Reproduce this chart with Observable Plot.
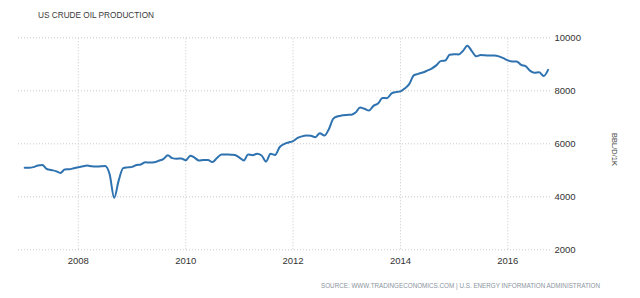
<!DOCTYPE html>
<html>
<head>
<meta charset="utf-8">
<script src="https://cdn.jsdelivr.net/npm/d3@7"></script>
<script src="https://cdn.jsdelivr.net/npm/@observablehq/plot@0.6"></script>
<style>
  html, body { margin: 0; padding: 0; background: #fff; }
  #chart { position: relative; width: 640px; height: 298px; overflow: hidden; }
  svg { font-family: "Liberation Sans", Arial, sans-serif; }
</style>
</head>
<body>
<div id="chart"></div>
<script>
const title = "US CRUDE OIL PRODUCTION";
const unitLabel = "BBL/D/1K";
const sourceText = "SOURCE: WWW.TRADINGECONOMICS.COM | U.S. ENERGY INFORMATION ADMINISTRATION";

const firstMonth = "2007-01-01";
// Monthly US crude oil production, thousand barrels per day
const production = [
  // 2007
  5094, 5094, 5120, 5180, 5200, 5050, 5010, 4970, 4900, 5030, 5040, 5080,
  // 2008
  5117, 5150, 5180, 5150, 5140, 5150, 5160, 4850, 3960, 4600, 5080, 5110,
  // 2009
  5130, 5200, 5220, 5300, 5290, 5300, 5360, 5420, 5570, 5460, 5440, 5450,
  // 2010
  5380, 5550, 5480, 5370, 5390, 5390, 5310, 5460, 5600, 5600, 5590, 5580,
  // 2011
  5480, 5370, 5600, 5570, 5620, 5560, 5330, 5620, 5580, 5870, 5990, 6050,
  // 2012
  6100, 6220, 6280, 6310, 6300, 6250, 6400, 6310, 6560, 6950, 7040, 7075,
  // 2013
  7090, 7100, 7180, 7370, 7320, 7255, 7430, 7520, 7730, 7720, 7900, 7950,
  // 2014
  7980, 8100, 8250, 8580, 8640, 8690, 8760, 8840, 8960, 9120, 9140, 9360,
  // 2015
  9380, 9370, 9500, 9700, 9500, 9300, 9350, 9340, 9330, 9330, 9300, 9230,
  // 2016
  9150, 9110, 9110, 8980, 8930, 8750, 8680, 8700, 8560, 8790
];
const xTickYears = [2008, 2010, 2012, 2014, 2016];
const yTicks = [2000, 4000, 6000, 8000, 10000];

const start = new Date(firstMonth);
const data = production.map((v, i) => ({
  date: d3.utcMonth.offset(start, i),
  value: v
}));
const xTicks = xTickYears.map(y => new Date(Date.UTC(y, 0, 1)));

const gridStyle = { stroke: "#c8c8c8", strokeOpacity: 1, strokeDasharray: "1,2", strokeWidth: 1 };

const chart = Plot.plot({
  width: 640,
  height: 298,
  marginLeft: 18,
  marginRight: 88,
  marginTop: 37.3,
  marginBottom: 48.7,
  style: { fontFamily: "Liberation Sans, Arial, sans-serif", background: "#fff" },
  x: { type: "utc", domain: [new Date("2006-11-20"), new Date("2016-10-31")] },
  y: { domain: [2000, 10000] },
  marks: [
    Plot.gridX(xTicks, { ...gridStyle, y1: 2000, y2: 10000 }),
    Plot.gridY(yTicks, gridStyle),
    Plot.axisX(xTicks, {
      tickSize: 0, tickPadding: 7, fontSize: 9.5, fill: "#333",
      tickFormat: d => String(d.getUTCFullYear()), label: null
    }),
    Plot.axisY(yTicks, {
      anchor: "right", tickSize: 0, tickPadding: 2, fontSize: 9.5, fill: "#333",
      tickFormat: d => String(d), label: null
    }),
    Plot.line(data, {
      x: "date", y: "value", stroke: "#2f72b0", strokeWidth: 2, curve: "monotone-x"
    })
  ]
});

const svg = d3.select(chart);
svg.append("text")
  .attr("x", 38).attr("y", 18.3)
  .attr("text-anchor", "start")
  .attr("font-size", 8.6).attr("fill", "#3a3a3a")
  .attr("font-family", "Liberation Sans, Arial, sans-serif")
  .attr("textLength", 116).attr("lengthAdjust", "spacingAndGlyphs")
  .text(title);
svg.append("text")
  .attr("transform", "translate(612,149.5) rotate(90)")
  .attr("text-anchor", "middle")
  .attr("font-size", 7.5).attr("fill", "#444")
  .attr("font-family", "Liberation Sans, Arial, sans-serif")
  .text(unitLabel);
svg.append("text")
  .attr("x", 600).attr("y", 288.3)
  .attr("text-anchor", "end")
  .attr("font-size", 7).attr("fill", "#8a949e")
  .attr("font-family", "Liberation Sans, Arial, sans-serif")
  .attr("textLength", 279).attr("lengthAdjust", "spacingAndGlyphs")
  .text(sourceText);

document.getElementById("chart").appendChild(chart);
</script>
</body>
</html>
